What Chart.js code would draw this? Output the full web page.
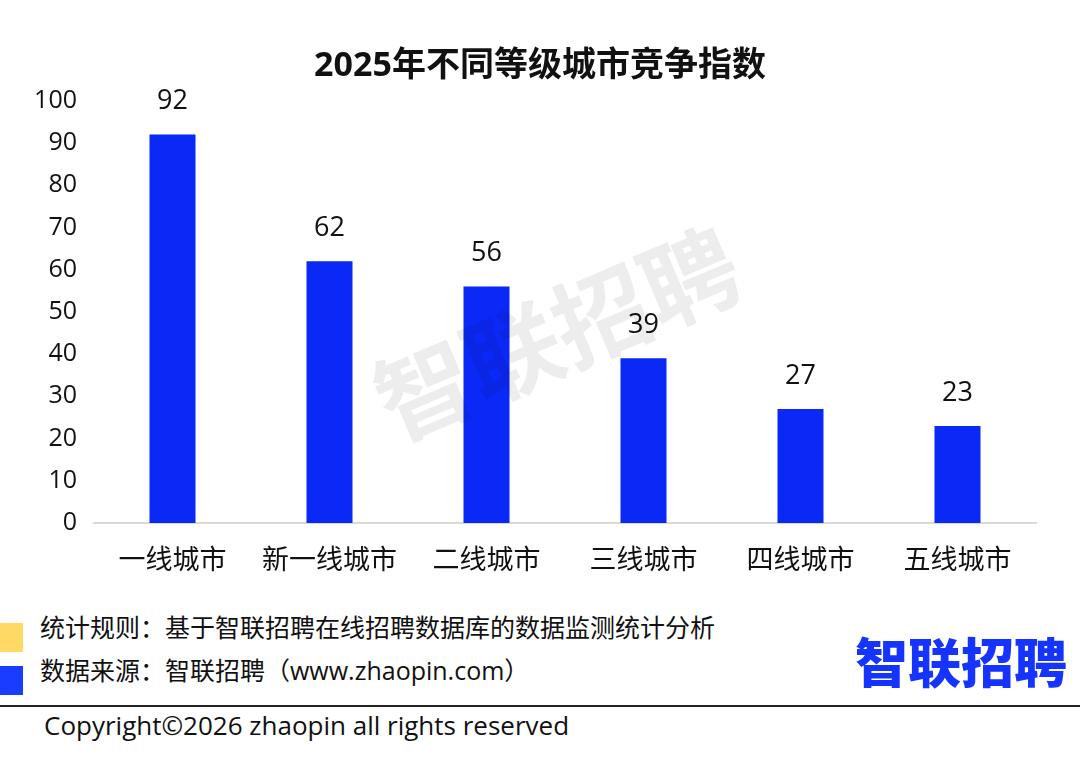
<!DOCTYPE html>
<html><head><meta charset="utf-8">
<script src="https://cdn.jsdelivr.net/npm/chart.js@4"></script>
<style>
html,body{margin:0;padding:0;background:#fff;width:1080px;height:768px;overflow:hidden;font-family:"Open Sans","Noto Sans CJK SC",sans-serif;}
#wrap{position:absolute;left:0;top:0;width:1080px;height:600px;}
.sq{position:absolute;left:0;width:23px;height:29px;}
.txt{position:absolute;left:40px;font-size:25px;color:#111;line-height:30px;white-space:nowrap;}
#logo{position:absolute;left:855px;top:622px;font-size:53px;font-weight:900;color:#1634ff;font-family:"Noto Sans CJK SC",sans-serif;line-height:76px;white-space:nowrap;}
#rule{position:absolute;left:0;top:705px;width:1080px;height:2px;background:#222;}
#copy{position:absolute;left:44px;top:709px;font-size:26px;color:#111;line-height:32px;white-space:nowrap;}
</style></head>
<body>
<div id="wrap"><canvas id="c" width="1080" height="600"></canvas></div>
<div class="sq" style="top:623px;background:#ffd966"></div>
<div class="sq" style="top:666px;background:#1a3cff"></div>
<div class="txt" style="top:612px">统计规则：基于智联招聘在线招聘数据库的数据监测统计分析</div>
<div class="txt" style="top:655px">数据来源：智联招聘（www.zhaopin.com）</div>
<div id="logo">智联招聘</div>
<div id="rule"></div>
<div id="copy">Copyright©2026 zhaopin all rights reserved</div>
<script>
const titleText = "2025年不同等级城市竞争指数";
const categories = ["一线城市","新一线城市","二线城市","三线城市","四线城市","五线城市"];
const indexValues = [92, 62, 56, 39, 27, 23];
const yTicks = [0,10,20,30,40,50,60,70,80,90,100];
const watermarkText = "智联招聘";

const FONT = "'Open Sans','Noto Sans CJK SC',sans-serif";

const valueLabels = {
  id: 'valueLabels',
  afterDatasetsDraw(chart) {
    const ctx = chart.ctx;
    const meta = chart.getDatasetMeta(0);
    ctx.save();
    ctx.font = "27px " + FONT;
    ctx.fillStyle = "#111";
    ctx.textAlign = "center";
    ctx.textBaseline = "middle";
    meta.data.forEach((bar, i) => {
      ctx.fillText(String(indexValues[i]), bar.x, bar.y - 33);
    });
    ctx.restore();
  }
};
const watermark = {
  id: 'watermark',
  afterDatasetsDraw(chart) {
    const ctx = chart.ctx;
    ctx.save();
    ctx.translate(557, 334);
    ctx.rotate(-23 * Math.PI / 180);
    ctx.font = "bold 96px 'Noto Sans CJK SC',sans-serif";
    ctx.fillStyle = "rgba(0,0,0,0.07)";
    ctx.textAlign = "center";
    ctx.textBaseline = "middle";
    ctx.fillText(watermarkText, 0, 0);
    ctx.restore();
  }
};

new Chart(document.getElementById('c'), {
  type: 'bar',
  data: {
    labels: categories,
    datasets: [{
      data: indexValues,
      backgroundColor: '#0b29f6',
      barPercentage: 0.293,
      categoryPercentage: 1.0
    }]
  },
  options: {
    responsive: false,
    animation: false,
    devicePixelRatio: 1,
    layout: { padding: 0 },
    plugins: {
      legend: { display: false },
      tooltip: { enabled: false },
      title: {
        display: true,
        text: titleText,
        color: '#111',
        font: { size: 34, weight: 'bold', family: FONT },
        padding: { top: 46, bottom: 14 }
      }
    },
    scales: {
      x: {
        grid: { display: false, drawTicks: false },
        border: { display: true, color: '#d9d9d9', width: 2 },
        ticks: { color: '#111', font: { size: 27, family: FONT }, padding: 22, maxRotation: 0 },
        afterFit(s) { s.height = 77; }
      },
      y: {
        min: 0, max: 100,
        afterBuildTicks(s) { s.ticks = yTicks.map(v => ({ value: v })); },
        grid: { display: false, drawTicks: false },
        border: { display: false },
        ticks: { color: '#111', font: { size: 25, family: FONT }, padding: 17 },
        afterFit(s) { s.width = 94; }
      },
      yRight: {
        position: 'right',
        min: 0, max: 100,
        grid: { display: false, drawTicks: false },
        border: { display: false },
        ticks: { display: false },
        afterFit(s) { s.width = 44; }
      }
    }
  },
  plugins: [valueLabels, watermark]
});
</script>
</body></html>
